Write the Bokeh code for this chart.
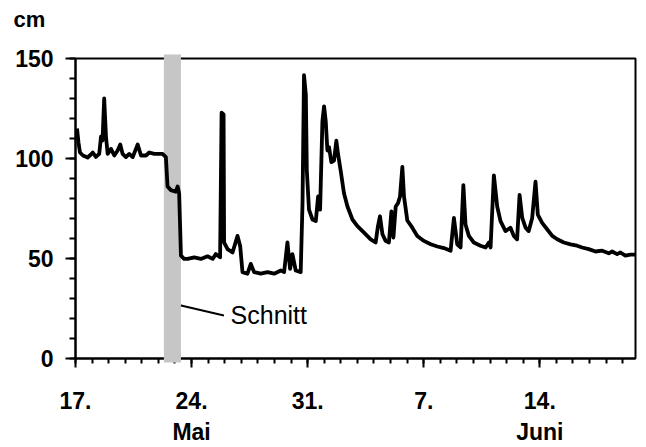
from bokeh.plotting import figure
from bokeh.models import FixedTicker, Label, Range1d, Title
from bokeh.embed import file_html
from bokeh.resources import INLINE

# days after 17 May (0 = 17. Mai)
day = [0.09, 0.18, 0.27, 0.45, 0.73, 0.93, 1.04, 1.23, 1.43, 1.54, 1.63, 1.73, 1.84, 1.94,
       2.14, 2.34, 2.54, 2.70, 2.84, 3.04, 3.24, 3.45, 3.75, 3.95, 4.25, 4.45, 4.75, 5.25,
       5.45, 5.55, 5.75, 6.05, 6.16, 6.25, 6.36, 6.55,
       6.76, 7.16, 7.56, 7.96, 8.27, 8.46, 8.72, 8.81, 8.93, 8.96, 9.17, 9.47, 9.77, 9.93,
       10.07, 10.37, 10.57, 10.77, 11.17, 11.58, 11.98, 12.38, 12.58, 12.78, 12.94, 13.08,
       13.28, 13.58, 13.69, 13.78, 13.89, 13.95, 14.08, 14.29, 14.49, 14.63, 14.75, 14.89,
       14.99, 15.09, 15.19, 15.29, 15.43, 15.59, 15.73, 15.83, 15.99, 16.19, 16.40, 16.70,
       17.00, 17.40, 17.80, 18.10, 18.24, 18.36, 18.51, 18.70, 18.90, 19.05, 19.17, 19.31,
       19.45, 19.57, 19.71, 19.81, 20.01, 20.31, 20.61, 21.01, 21.42, 21.82, 22.22, 22.62,
       22.82, 23.02, 23.22, 23.39, 23.52, 23.72, 24.02, 24.42, 24.73, 24.93, 25.03, 25.23,
       25.43, 25.63, 25.93, 26.23, 26.43, 26.63, 26.78, 26.94, 27.14, 27.33, 27.54, 27.74,
       27.88, 28.14, 28.45, 28.75, 29.05, 29.45, 29.85, 30.25, 30.55, 30.95, 31.36, 31.76,
       32.16, 32.36, 32.66, 32.86, 33.16, 33.46, 33.77]
level_cm = [115, 108, 103, 101.5, 100.5, 102, 103, 100.8, 102.3, 111, 109, 130, 110.7, 102.3,
            104.8, 101.5, 104, 107, 102.3, 100.7, 102.3, 100.7, 107, 101.5, 101.5, 103, 102.3, 102.3,
            100.7, 86, 84.2, 83.4, 86, 82.6, 51.4, 49.8,
            49.8, 50.6, 49.8, 51.1, 49.8, 52.2, 50.6, 122.9, 122, 58, 54.7, 53, 61.3, 56.3,
            43.2, 42.4, 47.3, 43.2, 42.4, 43.2, 42.4, 44, 43.2, 58, 44.8, 52.2,
            44, 43.2, 77.7, 141.7, 131.9, 94, 74.4, 69.5, 68.7, 81, 74.4, 118.7,
            126.1, 118.7, 104, 105.6, 98.2, 99, 108.9, 102.3, 94, 82.6, 76, 69.5,
            66.2, 62.9, 59.6, 58, 66.2, 71.1, 62.1, 58.8, 58, 73.6, 60.4, 76,
            77.7, 81, 95.8, 81, 69, 65.4, 61.3, 58.8, 57.1, 56, 55.2, 53.9,
            70.3, 57.1, 55.5, 86.7, 67, 61.3, 58, 56.4, 55.5, 58, 55.5, 91.6,
            76, 68.7, 63.7, 65.4, 61.3, 59.6, 81.8, 70.3, 65.4, 63.7, 70.3, 88.4,
            71.9, 67.8, 64.5, 61.3, 59.6, 58, 57.1, 56.4, 55.5, 54.7, 53.5, 53.9,
            52.6, 53.5, 52.2, 53, 51.4, 51.9, 51.9]

tick_days = [0, 7, 14, 21, 28]
tick_labels = ["17.", "24.\nMai", "31.", "7.", "14.\nJuni"]
y_ticks = [0, 50, 100, 150]

cut_start = [5.33]
cut_end = [6.36]

FONT = "Liberation Sans"

p = figure(width=646, height=447, output_backend="svg", toolbar_location=None,
           x_range=Range1d(0, 33.77), y_range=Range1d(0, 150),
           min_border_left=75, min_border_right=11, min_border_top=58, min_border_bottom=84)
p.xgrid.visible = False
p.ygrid.visible = False
p.outline_line_color = "black"
p.outline_line_width = 2
p.background_fill_color = "white"
p.border_fill_color = "white"

title = Title(text="cm\n ", align="left", offset=-62, text_font=FONT, text_font_style="bold",
              text_font_size="22px", text_color="black", vertical_align="bottom")
if "standoff" in Title.properties():
    title.standoff = 4
p.add_layout(title, "above")

# cut band
p.quad(left=cut_start, right=cut_end, bottom=[-2], top=[152], fill_color="#c6c6c6",
       line_color=None, level="overlay")

p.line(day, level_cm, line_color="black", line_width=3.8, line_join="round", level="overlay")

p.xaxis.ticker = FixedTicker(ticks=tick_days, minor_ticks=list(range(0, 34)))
p.xaxis.major_label_overrides = {d: l for d, l in zip(tick_days, tick_labels)}
p.yaxis.ticker = FixedTicker(ticks=y_ticks, minor_ticks=list(range(0, 151, 10)))

for ax in (p.xaxis[0], p.yaxis[0]):
    ax.axis_line_width = 2
    ax.axis_line_color = "black"
    ax.major_tick_line_width = 2
    ax.minor_tick_line_width = 2
    ax.major_tick_in = 0
    ax.minor_tick_in = 0
    ax.major_label_text_font = FONT
    ax.major_label_text_font_style = "bold"
    ax.major_label_text_font_size = "23px"
    ax.major_label_text_color = "black"
p.xaxis.major_tick_out = 9
p.xaxis.minor_tick_out = 5
p.yaxis.major_tick_out = 10
p.yaxis.minor_tick_out = 6
p.xaxis.major_label_standoff = 20
p.yaxis.major_label_standoff = 12

# "Schnitt" annotation
p.line([6.17, 8.95], [26.9, 21.5], line_color="black", line_width=2)
p.add_layout(Label(x=9.35, y=22, text="Schnitt", text_align="left", text_baseline="middle",
                   text_font=FONT, text_font_size="25px", text_color="black"))

open("out.html", "w").write(file_html(p, INLINE))
